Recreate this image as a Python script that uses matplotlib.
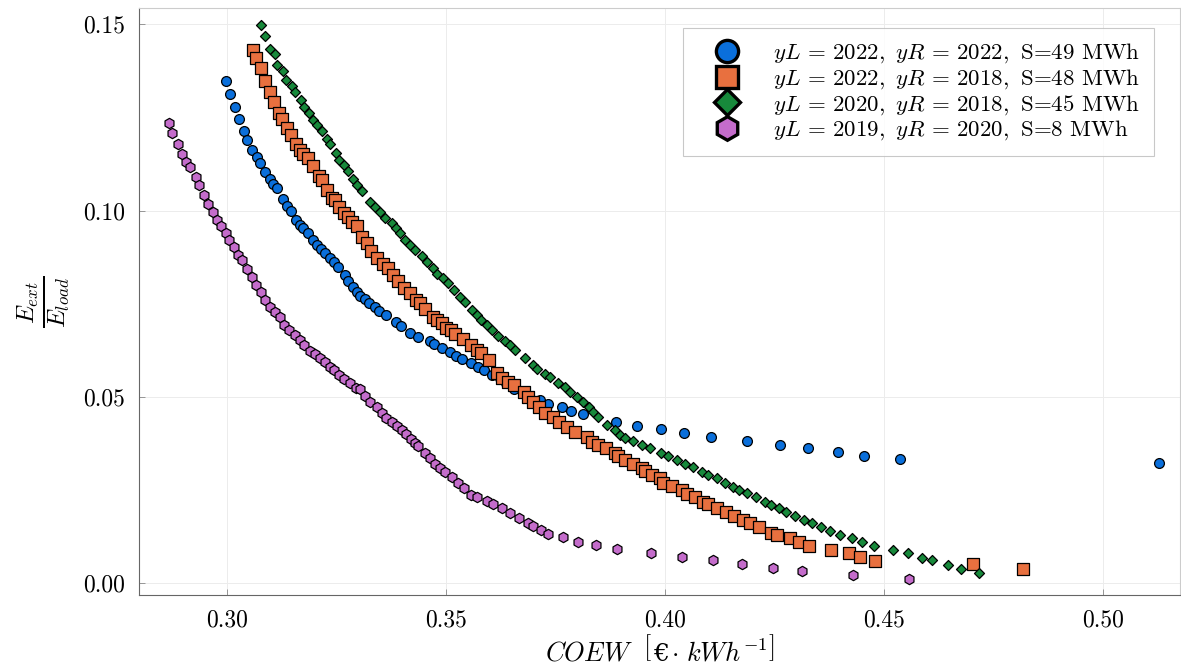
import matplotlib
matplotlib.use("Agg")
import matplotlib.pyplot as plt
from matplotlib.lines import Line2D
from matplotlib.offsetbox import TextArea, HPacker, AnchoredOffsetbox

plt.rcParams['font.family'] = ['cmr10', 'DejaVu Serif']
plt.rcParams['mathtext.fontset'] = 'cm'
plt.rcParams['axes.formatter.use_mathtext'] = True
plt.rcParams['axes.unicode_minus'] = False

# ---- data ----
blue_x = [0.2998, 0.3007, 0.3018, 0.3027, 0.3039, 0.3045, 0.3056, 0.3068, 0.3075, 0.3087,
          0.3097, 0.3106, 0.3113, 0.3127, 0.3138, 0.3146, 0.3157, 0.3167, 0.3174, 0.3186,
          0.3197, 0.3206, 0.3214, 0.3224, 0.3235, 0.3244, 0.3254, 0.3269, 0.3277, 0.3287,
          0.3296, 0.3304, 0.3315, 0.3325, 0.3338, 0.3348, 0.3363, 0.3386, 0.3397, 0.3418,
          0.3435, 0.3463, 0.3473, 0.3492, 0.3509, 0.3523, 0.3536, 0.3556, 0.3574, 0.3587,
          0.3604, 0.3623, 0.3638, 0.3656, 0.3715, 0.3734, 0.3764, 0.3785, 0.3812, 0.3889,
          0.3935, 0.3991, 0.4043, 0.4104, 0.4188, 0.4263, 0.4327, 0.4396, 0.4454, 0.4537,
          0.5128]
blue_y = [0.1348, 0.1313, 0.1279, 0.1247, 0.1214, 0.1189, 0.1162, 0.1144, 0.1127, 0.1103,
          0.1084, 0.1071, 0.1060, 0.1030, 0.1012, 0.0999, 0.0976, 0.0961, 0.0952, 0.0940,
          0.0921, 0.0909, 0.0896, 0.0885, 0.0872, 0.0861, 0.0849, 0.0827, 0.0812, 0.0795,
          0.0782, 0.0771, 0.0762, 0.0751, 0.0742, 0.0730, 0.0719, 0.0702, 0.0690, 0.0672,
          0.0661, 0.0650, 0.0641, 0.0630, 0.0621, 0.0609, 0.0601, 0.0590, 0.0579, 0.0572,
          0.0558, 0.0550, 0.0536, 0.0520, 0.0491, 0.0482, 0.0472, 0.0462, 0.0453, 0.0433,
          0.0422, 0.0413, 0.0404, 0.0391, 0.0382, 0.0372, 0.0363, 0.0353, 0.0342, 0.0332,
          0.0322]

orange_x = [0.3059, 0.3066, 0.3078, 0.3087, 0.3097, 0.3107, 0.3119, 0.3126, 0.3138, 0.3146,
            0.3157, 0.3167, 0.3174, 0.3186, 0.3196, 0.3209, 0.3216, 0.3228, 0.3239, 0.3247,
            0.3256, 0.3268, 0.3277, 0.3285, 0.3296, 0.3309, 0.3319, 0.3328, 0.3342, 0.3357,
            0.3368, 0.3380, 0.3390, 0.3405, 0.3418, 0.3432, 0.3441, 0.3452, 0.3470, 0.3480,
            0.3492, 0.3500, 0.3511, 0.3521, 0.3538, 0.3556, 0.3570, 0.3581, 0.3599, 0.3616,
            0.3629, 0.3642, 0.3656, 0.3677, 0.3688, 0.3699, 0.3713, 0.3726, 0.3744, 0.3759,
            0.3777, 0.3795, 0.3821, 0.3833, 0.3846, 0.3865, 0.3886, 0.3893, 0.3909, 0.3926,
            0.3947, 0.3954, 0.3970, 0.3989, 0.3996, 0.4015, 0.4038, 0.4050, 0.4068, 0.4086,
            0.4099, 0.4118, 0.4139, 0.4158, 0.4179, 0.4194, 0.4215, 0.4243, 0.4255, 0.4285,
            0.4306, 0.4329, 0.4380, 0.4421, 0.4445, 0.4479, 0.4703, 0.4817]
orange_y = [0.1431, 0.1410, 0.1382, 0.1349, 0.1319, 0.1292, 0.1261, 0.1245, 0.1221, 0.1203,
            0.1180, 0.1162, 0.1152, 0.1140, 0.1119, 0.1093, 0.1082, 0.1055, 0.1034, 0.1028,
            0.1010, 0.0994, 0.0982, 0.0970, 0.0958, 0.0928, 0.0912, 0.0892, 0.0872, 0.0858,
            0.0845, 0.0827, 0.0812, 0.0791, 0.0778, 0.0760, 0.0751, 0.0737, 0.0715, 0.0706,
            0.0697, 0.0686, 0.0679, 0.0670, 0.0654, 0.0639, 0.0627, 0.0617, 0.0599, 0.0563,
            0.0550, 0.0540, 0.0532, 0.0514, 0.0500, 0.0487, 0.0473, 0.0456, 0.0447, 0.0433,
            0.0420, 0.0406, 0.0391, 0.0379, 0.0370, 0.0362, 0.0348, 0.0341, 0.0330, 0.0321,
            0.0308, 0.0301, 0.0290, 0.0281, 0.0270, 0.0260, 0.0250, 0.0239, 0.0230, 0.0218,
            0.0212, 0.0202, 0.0191, 0.0181, 0.0169, 0.0160, 0.0151, 0.0135, 0.0129, 0.0120,
            0.0109, 0.0100, 0.0090, 0.0080, 0.0069, 0.0060, 0.0051, 0.0039]

green_x = [0.3078, 0.3087, 0.3098, 0.3110, 0.3113, 0.3127, 0.3135, 0.3148, 0.3155, 0.3168,
           0.3176, 0.3187, 0.3197, 0.3205, 0.3216, 0.3228, 0.3235, 0.3249, 0.3256, 0.3268,
           0.3277, 0.3287, 0.3296, 0.3308, 0.3327, 0.3338, 0.3349, 0.3361, 0.3376, 0.3386,
           0.3395, 0.3406, 0.3418, 0.3429, 0.3445, 0.3456, 0.3470, 0.3480, 0.3494, 0.3505,
           0.3518, 0.3532, 0.3543, 0.3559, 0.3570, 0.3581, 0.3593, 0.3604, 0.3619, 0.3635,
           0.3646, 0.3658, 0.3680, 0.3698, 0.3707, 0.3726, 0.3737, 0.3756, 0.3772, 0.3783,
           0.3798, 0.3812, 0.3827, 0.3836, 0.3848, 0.3867, 0.3886, 0.3897, 0.3909, 0.3926,
           0.3947, 0.3966, 0.3992, 0.4008, 0.4027, 0.4046, 0.4065, 0.4084, 0.4099, 0.4118,
           0.4137, 0.4156, 0.4170, 0.4188, 0.4208, 0.4228, 0.4243, 0.4261, 0.4276, 0.4297,
           0.4317, 0.4335, 0.4357, 0.4377, 0.4399, 0.4426, 0.4449, 0.4477, 0.4521, 0.4556,
           0.4586, 0.4610, 0.4647, 0.4676, 0.4717]
green_y = [0.1498, 0.1468, 0.1433, 0.1420, 0.1391, 0.1374, 0.1350, 0.1334, 0.1319, 0.1297,
           0.1279, 0.1261, 0.1243, 0.1230, 0.1214, 0.1191, 0.1179, 0.1155, 0.1137, 0.1122,
           0.1107, 0.1084, 0.1068, 0.1052, 0.1024, 0.1010, 0.0997, 0.0979, 0.0966, 0.0952,
           0.0940, 0.0921, 0.0907, 0.0894, 0.0878, 0.0863, 0.0845, 0.0831, 0.0818, 0.0806,
           0.0787, 0.0769, 0.0755, 0.0733, 0.0719, 0.0706, 0.0693, 0.0679, 0.0663, 0.0650,
           0.0639, 0.0626, 0.0603, 0.0585, 0.0576, 0.0561, 0.0552, 0.0536, 0.0527, 0.0514,
           0.0500, 0.0487, 0.0472, 0.0460, 0.0447, 0.0424, 0.0411, 0.0397, 0.0390, 0.0382,
           0.0370, 0.0362, 0.0350, 0.0341, 0.0330, 0.0321, 0.0311, 0.0299, 0.0290, 0.0281,
           0.0269, 0.0259, 0.0250, 0.0241, 0.0230, 0.0218, 0.0209, 0.0201, 0.0191, 0.0180,
           0.0169, 0.0160, 0.0150, 0.0140, 0.0129, 0.0120, 0.0109, 0.0100, 0.0090, 0.0080,
           0.0066, 0.0062, 0.0048, 0.0039, 0.0028]

purple_x = [0.2868, 0.2874, 0.2887, 0.2897, 0.2906, 0.2916, 0.2929, 0.2936, 0.2947, 0.2957,
            0.2967, 0.2978, 0.2986, 0.2997, 0.3005, 0.3016, 0.3026, 0.3034, 0.3046, 0.3058,
            0.3066, 0.3077, 0.3087, 0.3098, 0.3110, 0.3121, 0.3130, 0.3142, 0.3155, 0.3167,
            0.3176, 0.3189, 0.3201, 0.3212, 0.3224, 0.3235, 0.3244, 0.3256, 0.3266, 0.3281,
            0.3295, 0.3304, 0.3315, 0.3326, 0.3342, 0.3353, 0.3363, 0.3376, 0.3387, 0.3399,
            0.3409, 0.3420, 0.3429, 0.3437, 0.3452, 0.3463, 0.3475, 0.3486, 0.3498, 0.3513,
            0.3528, 0.3541, 0.3556, 0.3570, 0.3593, 0.3608, 0.3629, 0.3646, 0.3667, 0.3688,
            0.3699, 0.3718, 0.3734, 0.3768, 0.3802, 0.3842, 0.3890, 0.3967, 0.4040, 0.4110,
            0.4177, 0.4247, 0.4313, 0.4430, 0.4557]
purple_y = [0.1234, 0.1209, 0.1178, 0.1151, 0.1131, 0.1118, 0.1091, 0.1068, 0.1042, 0.1019,
            0.0997, 0.0974, 0.0958, 0.0940, 0.0921, 0.0901, 0.0881, 0.0867, 0.0842, 0.0822,
            0.0800, 0.0782, 0.0760, 0.0742, 0.0727, 0.0715, 0.0693, 0.0679, 0.0666, 0.0652,
            0.0639, 0.0624, 0.0614, 0.0603, 0.0594, 0.0581, 0.0572, 0.0558, 0.0547, 0.0536,
            0.0525, 0.0520, 0.0502, 0.0487, 0.0473, 0.0456, 0.0444, 0.0433, 0.0421, 0.0411,
            0.0400, 0.0386, 0.0377, 0.0368, 0.0348, 0.0335, 0.0321, 0.0308, 0.0299, 0.0285,
            0.0268, 0.0254, 0.0236, 0.0230, 0.0221, 0.0212, 0.0201, 0.0187, 0.0174, 0.0162,
            0.0153, 0.0142, 0.0132, 0.0123, 0.0111, 0.0102, 0.0091, 0.0081, 0.0071, 0.0062,
            0.0051, 0.0041, 0.0032, 0.0021, 0.0011]

labels = [r'$yL\,=\,2022,\ yR\,=\,2022,$ S=49 MWh',
          r'$yL\,=\,2022,\ yR\,=\,2018,$ S=48 MWh',
          r'$yL\,=\,2020,\ yR\,=\,2018,$ S=45 MWh',
          r'$yL\,=\,2019,\ yR\,=\,2020,$ S=8 MWh']
colors = ['#0A6FDB', '#E8703F', '#17893B', '#C46CCB']
markers = ['o', 's', 'D', 'h']
sizes = [50, 70, 26, 55]

xticks = [0.30, 0.35, 0.40, 0.45, 0.50]
yticks = [0.00, 0.05, 0.10, 0.15]

series = [(blue_x, blue_y), (orange_x, orange_y), (green_x, green_y), (purple_x, purple_y)]

fig = plt.figure(figsize=(11.81, 6.67), dpi=100)
ax = fig.add_axes([139/1181, 72/667, 1041/1181, 587/667])

for (xs, ys), c, m, s in zip(series, colors, markers, sizes):
    ax.scatter(xs, ys, s=s, c=c, marker=m, edgecolors='black', linewidths=0.9, zorder=3)

ax.set_xlim(0.2799, 0.5176)
ax.set_ylim(-0.0032, 0.1544)
ax.set_xticks(xticks)
ax.set_yticks(yticks)
ax.set_xticklabels([f'{t:.2f}' for t in xticks])
ax.set_yticklabels([f'{t:.2f}' for t in yticks])
ax.tick_params(labelsize=17, direction='in', length=4, color='#888888', width=0.6, pad=10)
ax.grid(True, color='#ececec', linewidth=0.7, zorder=0)
for side in ['left', 'bottom']:
    ax.spines[side].set_color('#666666')
    ax.spines[side].set_linewidth(0.8)
for side in ['top', 'right']:
    ax.spines[side].set_color('#cccccc')
    ax.spines[side].set_linewidth(0.8)

# x label built from pieces so that the euro sign can come from a font that has it
xl_parts = [
    TextArea(r'$COEW\ \ \left[\right.$', textprops=dict(fontsize=19)),
    TextArea('€', textprops=dict(fontsize=18, family='DejaVu Serif')),
    TextArea(r'$\cdot\ kWh^{-1}\left.\right]$', textprops=dict(fontsize=19)),
]
xl_box = HPacker(children=xl_parts, align='baseline', pad=0, sep=1)
xl_anchor = AnchoredOffsetbox(loc='upper center', child=xl_box, pad=0, borderpad=0,
                              frameon=False, bbox_to_anchor=(0.5, -0.068),
                              bbox_transform=ax.transAxes)
ax.add_artist(xl_anchor)

ax.set_ylabel(r'$\frac{E_{ext}}{E_{load}}$', fontsize=25, labelpad=7)

handles = [Line2D([], [], linestyle='none', marker=m, markersize=ms, markerfacecolor=c,
                  markeredgecolor='black', markeredgewidth=2.4)
           for m, c, ms in zip(markers, colors, [16, 16, 13, 17])]
leg = ax.legend(handles, labels, loc='upper right', bbox_to_anchor=(0.975, 0.966),
                borderaxespad=0, fontsize=16.5, frameon=True, fancybox=False,
                edgecolor='#bbbbbb', labelspacing=0.08, handlelength=2.7,
                handletextpad=0.65, borderpad=0.6)
leg.get_frame().set_linewidth(0.8)

fig.savefig('out.png', dpi=100)
